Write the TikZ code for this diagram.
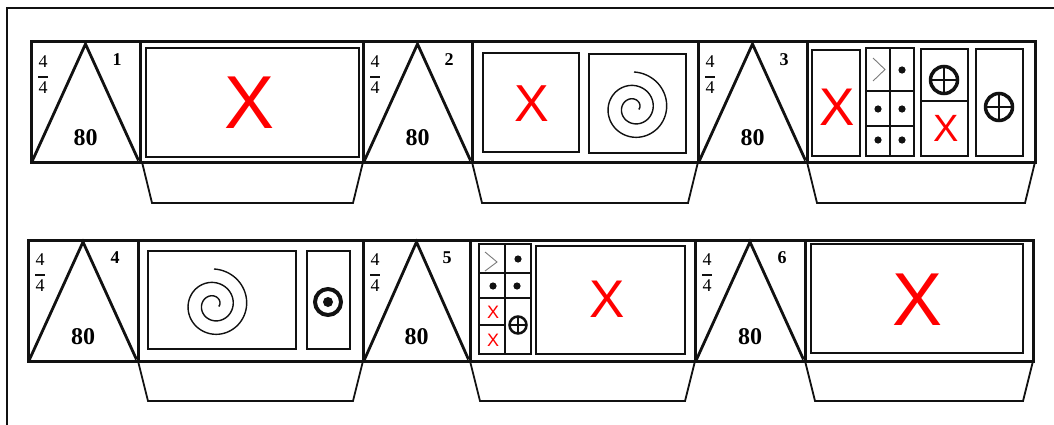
\documentclass[tikz,border=0pt]{standalone}
\usepackage{fontspec}
\setmainfont{Liberation Serif}
\setsansfont{Liberation Sans}
\usepackage{xcolor}
\usepackage{tikz}
\usetikzlibrary{calc}
\definecolor{Ink}{HTML}{111111}
\definecolor{Muted}{HTML}{7A7A7A}
\definecolor{Mark}{HTML}{FF0000}
\tikzset{
  frame/.style={draw=Ink,line width=1.4pt},
  strip/.style={draw=Ink,line width=3pt},
  tri/.style={draw=Ink,line width=2.8pt,line join=miter},
  box/.style={draw=Ink,line width=2.3pt},
  tray/.style={draw=Ink,line width=1.8pt},
  spiral/.style={draw=Ink,line width=1.4pt},
  chev/.style={draw=Muted,line width=0.9pt},
  redx/.style={text=Mark,inner sep=0pt,font=\sffamily\fontsize{#1}{#1}\selectfont},
  barnum/.style={inner sep=0pt,font=\bfseries\fontsize{18}{18}\selectfont},
  tempo/.style={inner sep=0pt,font=\bfseries\fontsize{24}{24}\selectfont},
  meter/.style={inner sep=0pt,font=\fontsize{18}{18}\selectfont},
  meterbar/.style={draw=Ink,line width=2.2pt}
}

\begin{document}
\begin{tikzpicture}[x=1pt,y=-1pt]
  \useasboundingbox (0,0) rectangle (1054,425);
  \draw[frame] (1054,8) -- (7,8) -- (7,425);
  % the two strips with their dividers
  \draw[strip] (31,42) rectangle (1035,162);
  \foreach \x in {140,363,472,698,807} \draw[strip] (\x,42) -- (\x,162);
  \draw[strip] (28,240) rectangle (1033,361);
  \foreach \x in {138,363,470,695,805} \draw[strip] (\x,240) -- (\x,361);
  % trays under the panels
  \foreach \l/\r/\t/\b in {142/363/162/203, 472/698/162/203, 807/1035/162/203,
                          138/363/361/401, 470/695/361/401, 805/1033/361/401} {
    \draw[tray] (\l,\t) -- (\l+10,\b) -- (\r-10,\b) -- (\r,\t);
  }
  % measure cells
  \foreach \n/\l/\r/\t/\b in {1/31/140/42/162, 2/363/472/42/162, 3/698/807/42/162,
                             4/28/138/240/361, 5/363/470/240/361, 6/695/805/240/361} {
    \draw[tri] (\l+1.5,\b-1.5) -- ({(\l+\r)/2},\t+2) -- (\r-1.5,\b-1.5);
    \node[barnum] (num\n) at (\r-23,\t+18) {\n};
    \node[tempo] (tempo\n) at ({(\l+\r)/2},\b-24) {80};
    \node[meter] (meterup\n) at (\l+12,\t+20) {4};
    \node[meter] (meterdown\n) at (\l+12,\t+46) {4};
    \draw[meterbar] (\l+7,\t+35) -- (\l+17,\t+35);
  }
  % panel 1
  \draw[box] (146,48) rectangle (359,157);
  \node[redx=75] (xone) at (250,103) {X};
  % panel 2
  \draw[box] (483,53) rectangle (579,152);
  \draw[box] (589,54) rectangle (686,153);
  \node[redx=52] (xtwo) at (532,104) {X};
  \draw[spiral] plot[domain=-17:810,samples=200,smooth] ({634+(36-0.0375*(810-\x))*cos(\x)},{108-(36-0.0375*(810-\x))*sin(\x)});
  % panel 3
  \draw[box] (812,50) rectangle (860,156);
  \node[redx=53] (xthree) at (837,107) {X};
  \draw[box] (866,48) rectangle (914,156);
  \draw[box] (890,48) -- (890,156) (866,91) -- (914,91) (866,126) -- (914,126);
  \draw[chev] (873,58) -- (885,69.5) -- (873,81);
  \foreach \x/\y in {902/70, 878/109, 902/109, 878/140, 902/140} \fill[Ink] (\x,\y) circle (3.6);
  \draw[box] (921,49) rectangle (968,156);
  \draw[box] (921,101) -- (968,101);
  \draw[Ink,line width=3.5pt] (944,80) circle (13.5);
  \draw[Ink,line width=2pt] (931,80) -- (957,80) (944,67) -- (944,93);
  \node[redx=38] (xthreeb) at (946,128) {X};
  \draw[box] (976,49) rectangle (1023,156);
  \draw[Ink,line width=3.5pt] (999,107) circle (13.5);
  \draw[Ink,line width=2pt] (986,107) -- (1012,107) (999,94) -- (999,120);
  % panel 4
  \draw[box] (148,251) rectangle (296,349);
  \draw[spiral] plot[domain=-17:810,samples=200,smooth] ({214+(36-0.0375*(810-\x))*cos(\x)},{305-(36-0.0375*(810-\x))*sin(\x)});
  \draw[box] (307,251) rectangle (350,349);
  \draw[Ink,line width=4pt] (328,302) circle (13);
  \fill[Ink] (328,302) circle (5);
  % panel 5
  \draw[box] (479,244) rectangle (531,354);
  \draw[box] (505,244) -- (505,354) (479,273) -- (531,273) (479,298) -- (531,298) (479,325) -- (505,325);
  \draw[chev] (485,252) -- (497,262) -- (485,271);
  \foreach \x/\y in {518/259, 493/286, 517/286} \fill[Ink] (\x,\y) circle (3.6);
  \node[redx=18] (xfivea) at (493,312) {X};
  \node[redx=18] (xfiveb) at (493,340) {X};
  \draw[Ink,line width=2.5pt] (518,325) circle (8.5);
  \draw[Ink,line width=1.6pt] (509.5,325) -- (526.5,325) (518,316.5) -- (518,333.5);
  \draw[box] (536,246) rectangle (685,354);
  \node[redx=53] (xfive) at (607,299) {X};
  % panel 6
  \draw[box] (811,244) rectangle (1023,353);
  \node[redx=75] (xsix) at (917,300) {X};
\end{tikzpicture}
\end{document}
